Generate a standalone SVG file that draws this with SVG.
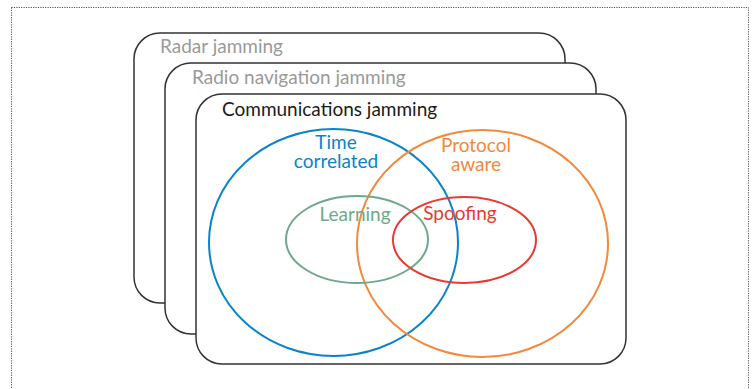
<svg xmlns="http://www.w3.org/2000/svg" width="753" height="389" viewBox="0 0 753 389">
<style>
.frame{fill:none;stroke:#555;stroke-width:1;stroke-dasharray:1.2 1.2}
.card{fill:#fff;stroke:#333;stroke-width:1.5}
.t{font-family:Lato,"Liberation Sans",sans-serif;font-size:19px}
.g{fill:#9a9a9a}
.k{fill:#1a1a1a}
.set{fill:none;stroke-width:2}
</style>
<rect class="frame" x="11.5" y="7.5" width="737" height="400"/>
<g id="radar">
<rect class="card" x="134" y="33" width="431" height="270" rx="26"/>
<text class="t g" x="160" y="53">Radar jamming</text>
</g>
<g id="radionav">
<rect class="card" x="165" y="63" width="431" height="271" rx="26"/>
<text class="t g" x="192" y="84">Radio navigation jamming</text>
</g>
<g id="comms">
<rect class="card" x="196" y="94" width="430" height="270" rx="26"/>
<text class="t k" x="222" y="116">Communications jamming</text>
</g>
<g id="time">
<ellipse class="set" cx="333.5" cy="242.5" rx="124.5" ry="113.5" stroke="#0a84c8"/>
<text class="t" fill="#0a84c8" text-anchor="middle"><tspan x="336" y="149">Time</tspan><tspan x="336" y="168">correlated</tspan></text>
</g>
<g id="protocol">
<ellipse class="set" cx="482.5" cy="243.5" rx="125.5" ry="113.5" stroke="#f5883a"/>
<text class="t" fill="#f5883a" text-anchor="middle"><tspan x="476" y="152">Protocol</tspan><tspan x="476" y="171">aware</tspan></text>
</g>
<g id="learning">
<ellipse class="set" cx="357" cy="239.5" rx="71" ry="43.5" stroke="#6fa88c"/>
<text class="t" fill="#6fa88c" text-anchor="middle" x="355" y="221">Learning</text>
</g>
<g id="spoofing">
<ellipse class="set" cx="464.5" cy="240" rx="71.5" ry="43" stroke="#e83a33"/>
<text class="t" fill="#e83a33" text-anchor="middle" x="460" y="220">Spoofing</text>
</g>
<g id="connectors"/>
</svg>
